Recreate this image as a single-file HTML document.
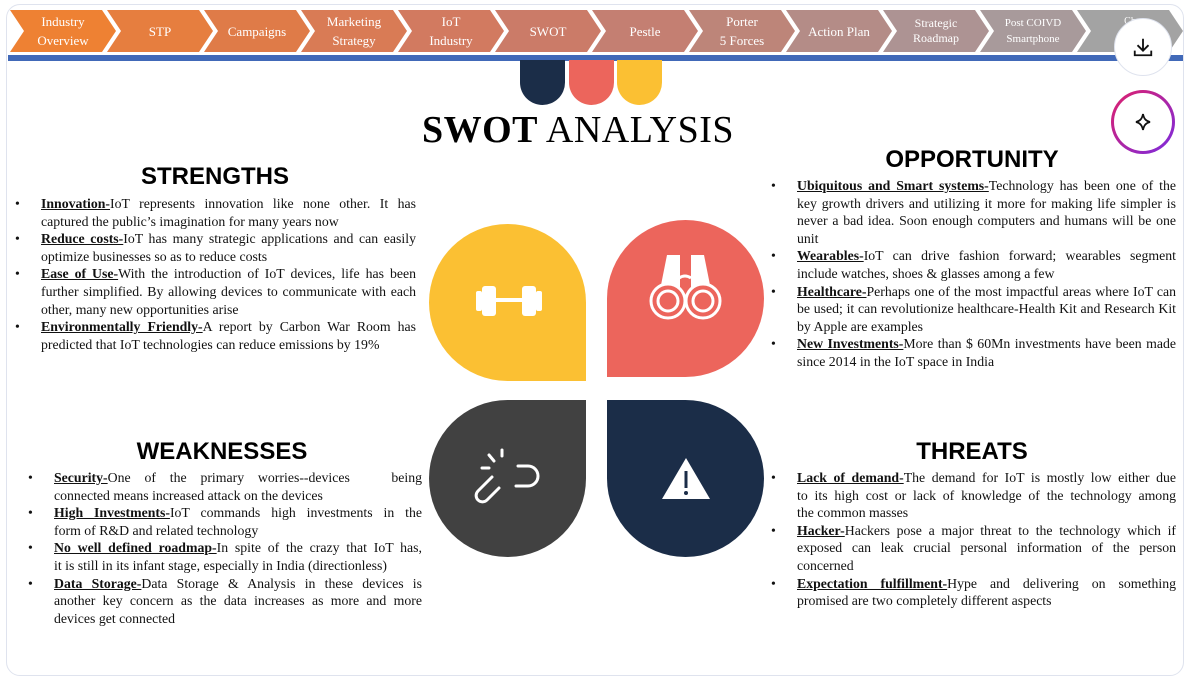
<!DOCTYPE html>
<html><head><meta charset="utf-8"><style>
body{margin:0;width:1187px;height:655px;background:#fff;position:relative;overflow:hidden;font-family:"Liberation Serif",serif}
.frame{position:absolute;left:6px;top:4px;width:1176px;height:670px;border:1px solid #dfe3ee;border-radius:14px}
.nav{position:absolute;top:10px;height:42px;width:106px;display:flex;align-items:center;justify-content:center;text-align:center;color:#fff;font-size:13px;line-height:19px;clip-path:polygon(0 0,92px 0,106px 50%,92px 100%,0 100%,14px 50%)}
.bar{position:absolute;left:8px;top:55px;width:1175px;height:6px;background:#4169b8}
.pill{position:absolute;top:60px;width:45px;height:45px;border-radius:0 0 23px 23px}
h1{position:absolute;margin:0;top:108px;left:0;width:1156px;text-align:center;font-size:38px;font-weight:normal;letter-spacing:0.5px}
h2{position:absolute;margin:0;font-family:"Liberation Sans",sans-serif;font-size:24px;font-weight:bold;text-align:center;width:380px}
ul{position:absolute;margin:0;padding:0;list-style:none;font-size:13.8px;line-height:17.6px;text-align:justify;color:#111}
li{position:relative}
li:before{content:"•";position:absolute;left:-26px}
.j{display:block;text-align:justify;text-align-last:justify;white-space:nowrap}
.j2{display:block;white-space:nowrap}
b{text-decoration:underline}
.leaf{position:absolute;width:157px;height:157px}
.btn{position:absolute;left:1114px;width:56px;height:56px;border-radius:50%;background:#fff;display:flex;align-items:center;justify-content:center}
</style></head><body>
<div class="frame"></div>
<div class="nav" style="left:10px;background:#ee8133">Industry<br>Overview</div>
<div class="nav" style="left:107px;background:#e67e3f">STP</div>
<div class="nav" style="left:204px;background:#df7b48">Campaigns</div>
<div class="nav" style="left:301px;background:#d97b55">Marketing<br>Strategy</div>
<div class="nav" style="left:398px;background:#d27a60">IoT<br>Industry</div>
<div class="nav" style="left:495px;background:#cb7b68">SWOT</div>
<div class="nav" style="left:592px;background:#c47f72">Pestle</div>
<div class="nav" style="left:689px;background:#bd8579">Porter<br>5 Forces</div>
<div class="nav" style="left:786px;background:#b48c87">Action Plan</div>
<div class="nav" style="left:883px;background:#ad9393;font-size:12px;line-height:15px">Strategic<br>Roadmap</div>
<div class="nav" style="left:980px;background:#a89a9b;font-size:11px;line-height:16px">Post COIVD<br>Smartphone</div>
<div class="nav" style="left:1077px;background:#a3a3a3;font-size:10px">Ch<br>Op</div>
<div class="bar"></div>
<div class="btn" style="top:18px;border:1px solid #dfe3ee"><svg width="22" height="22" viewBox="0 0 24 24" fill="none" stroke="#111" stroke-width="2"><path d="M12 3v12M6 10l6 6 6-6M3 16v5h18v-5"/></svg></div>
<div class="btn" style="top:90px;width:58px;height:58px;background:linear-gradient(#fff,#fff) padding-box,linear-gradient(135deg,#e0206a,#7a2be0) border-box;border:3px solid transparent;left:1111px"><svg width="24" height="24" viewBox="0 0 24 24" fill="none" stroke="#111" stroke-width="1.8"><path d="M12 4c1 5 3 7 7 8-4 1-6 3-7 8-1-5-3-7-7-8 4-1 6-3 7-8z"/></svg></div>
<div class="pill" style="left:520px;background:#1b2d48"></div>
<div class="pill" style="left:569px;background:#ec655c"></div>
<div class="pill" style="left:617px;background:#fbc033"></div>
<h1><b style="text-decoration:none;font-weight:bold">SWOT</b> ANALYSIS</h1>

<h2 style="left:25px;top:163px">STRENGTHS</h2>
<ul style="left:41px;top:195px;width:375px">
<li><b>Innovation-</b>IoT represents innovation like none other. It has captured the public’s imagination for many years now</li>
<li><b>Reduce costs-</b>IoT has many strategic applications and can easily optimize businesses so as to reduce costs</li>
<li><b>Ease of Use-</b>With the introduction of IoT devices, life has been further simplified. By allowing devices to communicate with each other, many new opportunities arise</li>
<li><b>Environmentally Friendly-</b>A report by Carbon War Room has predicted that IoT technologies can reduce emissions by 19%</li>
</ul>
<h2 style="left:782px;top:146px">OPPORTUNITY</h2>
<ul style="left:797px;top:177px;width:379px">
<li><b>Ubiquitous and Smart systems-</b>Technology has been one of the key growth drivers and utilizing it more for making life simpler is never a bad idea. Soon enough computers and humans will be one unit</li>
<li><b>Wearables-</b>IoT can drive fashion forward; wearables segment include watches, shoes &amp; glasses among a few</li>
<li><b>Healthcare-</b>Perhaps one of the most impactful areas where IoT can be used; it can revolutionize healthcare-Health Kit and Research Kit by Apple are examples</li>
<li><b>New Investments-</b>More than $ 60Mn investments have been made since 2014 in the IoT space in India</li>
</ul>
<h2 style="left:32px;top:438px">WEAKNESSES</h2>
<ul style="left:54px;top:469px;width:368px">
<li><span class="j"><b>Security-</b>One of the primary worries--devices &nbsp; being</span><span class="j2">connected means increased attack on the devices</span></li>
<li><span class="j"><b>High Investments-</b>IoT commands high investments in the</span><span class="j2">form of R&amp;D and related technology</span></li>
<li><span class="j"><b>No well defined roadmap-</b>In spite of the crazy that IoT has,</span><span class="j2">it is still in its infant stage, especially in India (directionless)</span></li>
<li><span class="j"><b>Data Storage-</b>Data Storage &amp; Analysis in these devices is</span><span class="j">another key concern as the data increases as more and more</span><span class="j2">devices get connected</span></li>
</ul>
<h2 style="left:782px;top:438px">THREATS</h2>
<ul style="left:797px;top:469px;width:379px">
<li><span class="j"><b>Lack of demand-</b>The demand for IoT is mostly low either due</span><span class="j">to its high cost or lack of knowledge of the technology among</span><span class="j2">the common masses</span></li>
<li><b>Hacker-</b>Hackers pose a major threat to the technology which if exposed can leak crucial personal information of the person concerned</li>
<li><b>Expectation fulfillment-</b>Hype and delivering on something promised are two completely different aspects</li>
</ul>

<div class="leaf" style="left:429px;top:224px;background:#fbc033;border-radius:79px 79px 0 79px">
<svg width="157" height="157"><g fill="#fff"><rect x="47" y="67" width="6" height="20" rx="2"/><rect x="53" y="62" width="14" height="30" rx="3"/><rect x="65" y="74" width="30" height="4"/><rect x="93" y="62" width="14" height="30" rx="3"/><rect x="107" y="67" width="6" height="20" rx="2"/></g></svg></div>
<div class="leaf" style="left:607px;top:220px;background:#ec655c;border-radius:79px 79px 79px 0">
<svg width="157" height="157" fill="none" stroke="#fff" stroke-width="3"><path d="M60 35 L73 35 L73 75 L52 75 Z M97 35 L84 35 L84 75 L105 75 Z" fill="#fff" stroke="none"/><circle cx="61" cy="81" r="17" fill="#ec655c"/><circle cx="96" cy="81" r="17" fill="#ec655c"/><circle cx="61" cy="81" r="10"/><circle cx="96" cy="81" r="10"/><path d="M72 58q6-4 12 0"/></svg></div>
<div class="leaf" style="left:429px;top:400px;background:#414141;border-radius:79px 0 79px 79px">
<svg width="157" height="157" fill="none" stroke="#fff" stroke-width="3" stroke-linecap="round"><path d="M87 86h12a10 10 0 0 0 0-20h-10"/><path d="M70 88l-12 12a6 6 0 0 1-9-9l14-14"/><path d="M60 55l5 6M73 50v6M53 68h7"/></svg></div>
<div class="leaf" style="left:607px;top:400px;background:#1b2d48;border-radius:0 79px 79px 79px">
<svg width="157" height="157"><polygon points="55,99 79,58 103,99" fill="#fff"/><rect x="77.5" y="71" width="3" height="17" fill="#1b2d48"/><circle cx="79" cy="93" r="2" fill="#1b2d48"/></svg></div>
</body></html>
